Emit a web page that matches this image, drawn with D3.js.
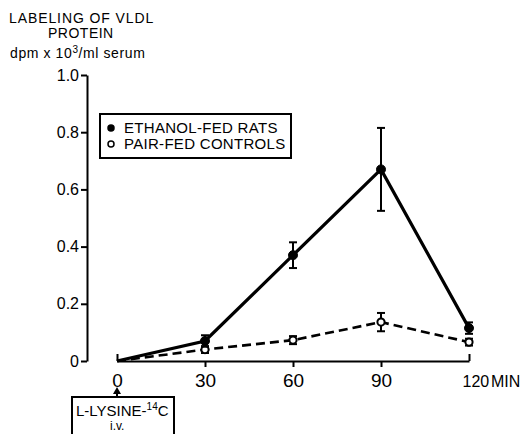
<!DOCTYPE html>
<head>
    <script src="https://d3js.org/d3.v7.min.js"></script>
    <style>
        body { margin: 0; background: #fff; }
        text { font-family: "Liberation Sans", Arial, sans-serif; fill: #000; }
    </style>
</head>
<body>
    <svg></svg>
</body>

<script>
    // Data
    var times = [0, 30, 60, 90, 120];
    var ethanolMean = [0, 0.07, 0.37, 0.67, 0.115];
    var ethanolErr = [0, 0.02, 0.045, 0.145, 0.02];
    var pairMean = [0, 0.04, 0.073, 0.136, 0.066];
    var pairErr = [0, 0.012, 0.014, 0.032, 0.012];
    var yTicks = [0, 0.2, 0.4, 0.6, 0.8, 1.0];
    var yTickLabels = ["0", "0.2", "0.4", "0.6", "0.8", "1.0"];
    var xTicks = [0, 30, 60, 90, 120];
    var xTickLabels = ["0", "30", "60", "90", "120"];
    var xUnit = "MIN";
    var seriesNames = ["ETHANOL-FED RATS", "PAIR-FED CONTROLS"];

    // Variables
    var width = 522;
    var height = 434;

    var svg = d3.select('svg')
        .attr('width', width)
        .attr('height', height);

    var x = d3.scaleLinear().domain([0, 120]).range([117, 469]);
    var y = d3.scaleLinear().domain([0, 1]).range([361, 75]);

    // Title
    var title = svg.append('g').style('font-size', '14px');
    title.append('text').attr('x', 9).attr('y', 23).style('letter-spacing', '0.9px').text('LABELING OF VLDL');
    title.append('text').attr('x', 48).attr('y', 38).style('letter-spacing', '0.5px').text('PROTEIN');
    var unit = title.append('text').attr('x', 10).attr('y', 58).style('letter-spacing', '0.6px');
    unit.append('tspan').text('dpm x 10');
    unit.append('tspan').attr('dy', -5).style('font-size', '10px').text('3');
    unit.append('tspan').attr('dy', 5).text('/ml serum');

    // Y axis
    var yAxis = svg.append('g')
        .attr('transform', 'translate(87,0)')
        .call(d3.axisLeft(y)
            .tickValues(yTicks)
            .tickFormat(function (d, i) { return yTickLabels[i]; })
            .tickSize(6)
            .tickSizeOuter(0)
            .tickPadding(2));
    yAxis.selectAll('path, line').attr('stroke', '#000').attr('stroke-width', 2);
    yAxis.selectAll('text').style('font-size', '16px').attr('font-family', null);

    // X axis
    var xAxis = svg.append('g')
        .attr('transform', 'translate(0,' + y(0) + ')')
        .call(d3.axisBottom(x)
            .tickValues(xTicks)
            .tickFormat(function (d, i) { return xTickLabels[i]; })
            .tickSize(6)
            .tickSizeOuter(0)
            .tickPadding(7));
    xAxis.selectAll('path, line').attr('stroke', '#000').attr('stroke-width', 2);
    xAxis.selectAll('text').style('font-size', '19px').attr('font-family', null);
    // end ticks point up
    xAxis.selectAll('.tick')
        .filter(function (d) { return d === 0 || d === 120; })
        .select('line').attr('y2', -7);
    xAxis.selectAll('.tick')
        .filter(function (d) { return d === 120; })
        .select('text')
        .attr('text-anchor', 'start')
        .attr('x', -7)
        .attr('dy', null)
        .attr('y', 26)
        .style('font-size', '16px');
    // unit label after the last tick, same baseline as tick labels
    svg.append('text')
        .attr('x', 491).attr('y', 387)
        .style('font-size', '16px')
        .text(xUnit);

    // Lines
    function series(mean) {
        return times.map(function (t, i) { return [t, mean[i]]; });
    }
    var line = d3.line()
        .x(function (d) { return x(d[0]); })
        .y(function (d) { return y(d[1]); });

    svg.append('path')
        .attr('d', line(series(pairMean)))
        .attr('fill', 'none')
        .attr('stroke', '#000')
        .attr('stroke-width', 2.6)
        .attr('stroke-dasharray', '9,5');

    svg.append('path')
        .attr('d', line(series(ethanolMean)))
        .attr('fill', 'none')
        .attr('stroke', '#000')
        .attr('stroke-width', 3.2);

    // Error bars and markers
    function drawPoints(mean, err, filled) {
        var pts = times.map(function (t, i) { return { t: t, m: mean[i], e: err[i] }; })
            .filter(function (d) { return d.t > 0; });
        var g = svg.append('g');
        var eb = g.selectAll('g.err').data(pts).enter().append('g')
            .attr('stroke', '#000').attr('stroke-width', 2);
        eb.append('line')
            .attr('x1', function (d) { return x(d.t); })
            .attr('x2', function (d) { return x(d.t); })
            .attr('y1', function (d) { return y(d.m - d.e); })
            .attr('y2', function (d) { return y(d.m + d.e); });
        eb.append('line')
            .attr('x1', function (d) { return x(d.t) - 4; })
            .attr('x2', function (d) { return x(d.t) + 4; })
            .attr('y1', function (d) { return y(d.m + d.e); })
            .attr('y2', function (d) { return y(d.m + d.e); });
        eb.append('line')
            .attr('x1', function (d) { return x(d.t) - 4; })
            .attr('x2', function (d) { return x(d.t) + 4; })
            .attr('y1', function (d) { return y(d.m - d.e); })
            .attr('y2', function (d) { return y(d.m - d.e); });
        g.selectAll('circle').data(pts).enter().append('circle')
            .attr('cx', function (d) { return x(d.t); })
            .attr('cy', function (d) { return y(d.m); })
            .attr('r', filled ? 4.5 : 3.6)
            .attr('fill', filled ? '#000' : '#fff')
            .attr('stroke', '#000')
            .attr('stroke-width', filled ? 1 : 2);
    }
    drawPoints(pairMean, pairErr, false);
    drawPoints(ethanolMean, ethanolErr, true);

    // Legend
    var legend = svg.append('g');
    legend.append('rect')
        .attr('x', 100).attr('y', 114).attr('width', 191).attr('height', 44)
        .attr('fill', '#fff').attr('stroke', '#000').attr('stroke-width', 2);
    seriesNames.forEach(function (name, i) {
        legend.append('circle')
            .attr('cx', 111).attr('cy', 128 + i * 16)
            .attr('r', 3)
            .attr('fill', i === 0 ? '#000' : '#fff')
            .attr('stroke', '#000').attr('stroke-width', 1.5);
        legend.append('text')
            .attr('x', 124).attr('y', 133 + i * 16)
            .style('font-size', '15px')
            .style('letter-spacing', '0.3px')
            .text(name);
    });

    // Injection box
    var inj = svg.append('g');
    inj.append('line')
        .attr('x1', x(0)).attr('x2', x(0))
        .attr('y1', 397).attr('y2', 392)
        .attr('stroke', '#000').attr('stroke-width', 2);
    inj.append('path')
        .attr('d', 'M' + (x(0) - 4) + ',394 L' + x(0) + ',387 L' + (x(0) + 4) + ',394 Z')
        .attr('fill', '#000');
    inj.append('path')
        .attr('d', 'M72,436 L72,397 L174,397 L174,436')
        .attr('fill', 'none').attr('stroke', '#000').attr('stroke-width', 2);
    var lt = inj.append('text').attr('x', 76).attr('y', 416).style('font-size', '15px');
    lt.append('tspan').text('L-LYSINE-');
    lt.append('tspan').attr('dy', -6).style('font-size', '10px').text('14');
    lt.append('tspan').attr('dy', 6).text('C');
    inj.append('text').attr('x', 110).attr('y', 430).style('font-size', '12px').text('i.v.');
</script>
